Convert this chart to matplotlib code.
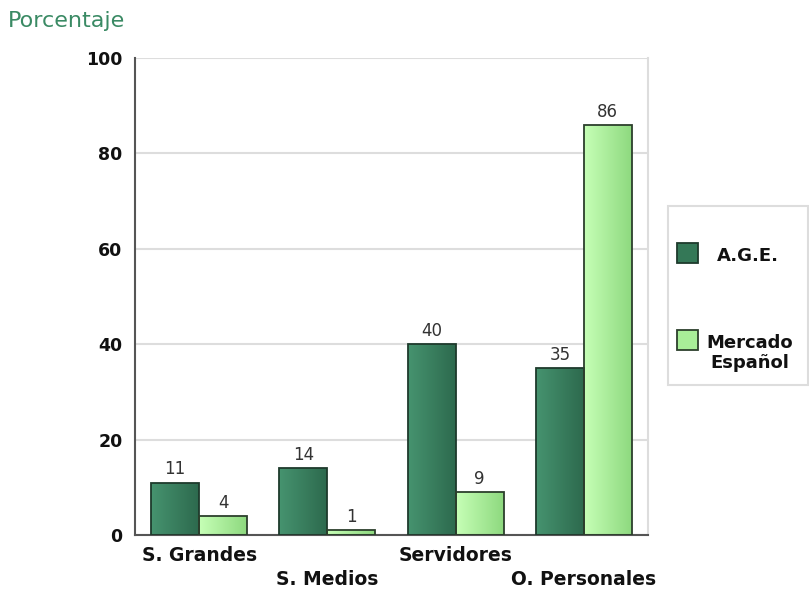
import numpy as np
import matplotlib.pyplot as plt
from matplotlib.patches import Rectangle
from matplotlib.colors import LinearSegmentedColormap
import matplotlib.transforms as mtransforms

categorias = ['S. Grandes', 'S. Medios', 'Servidores', 'O. Personales']
age = [11, 14, 40, 35]
mercado = [4, 1, 9, 86]
series = ['A.G.E.', 'Mercado\nEspañol']

plt.rcParams['font.family'] = ['DejaVu Sans']

fig = plt.figure(figsize=(8.09, 5.92), dpi=100)
ax = fig.add_axes([135 / 809, 57 / 592, 513 / 809, 477 / 592])

cm_oscuro = LinearSegmentedColormap.from_list('oscuro', ['#46936f', '#2d6a4e'])
cm_claro = LinearSegmentedColormap.from_list('claro', ['#c6ffb6', '#8ed97f'])
grad = np.linspace(0, 1, 64).reshape(1, -1)

x = np.arange(len(categorias))
w = 0.374


def barras_gradiente(pos, valores, cmap, borde):
    barras = ax.bar(pos, valores, w, facecolor='none', edgecolor=borde, linewidth=1.3, zorder=3)
    for b in barras:
        x0, y0 = b.get_x(), b.get_y()
        im = ax.imshow(grad, cmap=cmap, aspect='auto', zorder=2,
                       extent=[x0, x0 + b.get_width(), y0, y0 + b.get_height()])
        im.set_clip_path(b)
    return barras


b1 = barras_gradiente(x - w / 2, age, cm_oscuro, '#1e3a2c')
b2 = barras_gradiente(x + w / 2, mercado, cm_claro, '#2c3f2c')

for barras in (b1, b2):
    for b in barras:
        ax.annotate(str(int(b.get_height())), (b.get_x() + b.get_width() / 2, b.get_height()),
                    xytext=(0, 3), textcoords='offset points', ha='center', va='bottom',
                    fontsize=12, color='#333333')

ax.set_xlim(-0.5, 3.5)
ax.set_ylim(0, 100)
ax.set_yticks([0, 20, 40, 60, 80, 100])
ax.grid(axis='y', color='#dddddd', linewidth=1.5, zorder=0)
ax.set_axisbelow(True)

ax.set_xticks(x)
ax.set_xticklabels(categorias, fontsize=13.5, fontweight='bold', color='#111111')
for t in ax.get_yticklabels():
    t.set_fontweight('bold')
    t.set_fontsize(12.5)
    t.set_color('#111111')
ax.tick_params(axis='both', length=0)
ax.tick_params(axis='y', pad=9)
ax.tick_params(axis='x', pad=8)

# etiquetas escalonadas
desplaz = [0, -24, 0, -24]
for lbl, dy in zip(ax.get_xticklabels(), desplaz):
    lbl.set_transform(lbl.get_transform() + mtransforms.ScaledTranslation(0, dy / 100, fig.dpi_scale_trans))

ax.spines['left'].set_color('#555555')
ax.spines['left'].set_linewidth(1.5)
ax.spines['bottom'].set_color('#555555')
ax.spines['bottom'].set_linewidth(1.5)
ax.spines['top'].set_visible(False)
ax.spines['right'].set_color('#dddddd')
ax.spines['right'].set_linewidth(1.5)

fig.text(8 / 809, 1 - 21 / 592, 'Porcentaje', fontsize=16, color='#3a8a64', va='center')

# leyenda
fig.patches.append(Rectangle((668 / 809, 1 - 385 / 592), 140 / 809, 179 / 592, transform=fig.transFigure,
                             facecolor='white', edgecolor='#dddddd', linewidth=1.5))
fig.patches.append(Rectangle((677 / 809, 1 - 263 / 592), 21 / 809, 20 / 592, transform=fig.transFigure,
                             facecolor='#347857', edgecolor='#1e3a2c', linewidth=1.3))
fig.patches.append(Rectangle((677 / 809, 1 - 350 / 592), 21 / 809, 20 / 592, transform=fig.transFigure,
                             facecolor='#a8ee98', edgecolor='#2c3f2c', linewidth=1.3))
fig.text(717 / 809, 1 - 256 / 592, series[0], fontsize=13, fontweight='bold', color='#111111', va='center')
fig.text(750 / 809, 1 - 353 / 592, series[1], fontsize=13, fontweight='bold', color='#111111',
         va='center', ha='center', multialignment='center', linespacing=1.1)

fig.savefig('out.png', dpi=100)
